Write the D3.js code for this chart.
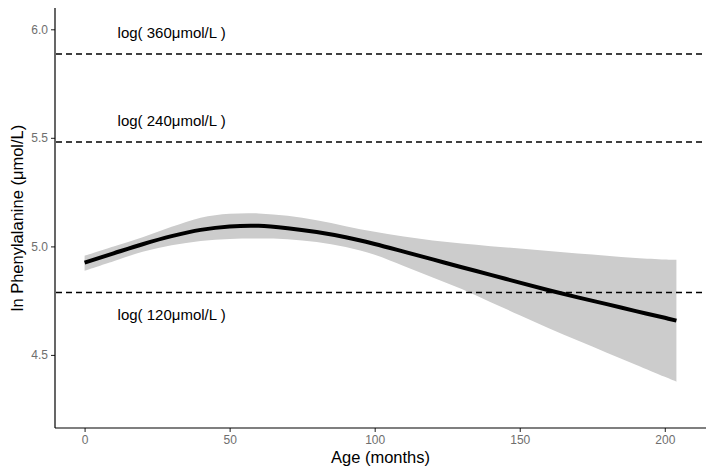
<!DOCTYPE html>
<html>
<head>
<meta charset="utf-8">
<script src="https://cdn.jsdelivr.net/npm/d3@7"></script>
<style>
  html, body { margin: 0; padding: 0; background: #fff; }
  svg { display: block; font-family: "Liberation Sans", Arial, sans-serif; }
</style>
</head>
<body>
<svg id="chart" width="712" height="472"></svg>
<script>
// ---- data ----
const ages  = [0, 10, 20, 30, 40, 50, 60, 70, 80, 90, 100, 110, 120, 130, 140, 150, 160, 170, 180, 190, 200, 204];
const fit   = [4.925, 4.968, 5.010, 5.047, 5.076, 5.092, 5.095, 5.084, 5.066, 5.042, 5.011, 4.976, 4.940, 4.904, 4.869, 4.833, 4.798, 4.765, 4.734, 4.702, 4.671, 4.658];
const upper = [4.957, 5.000, 5.042, 5.090, 5.132, 5.150, 5.152, 5.141, 5.120, 5.093, 5.067, 5.045, 5.027, 5.013, 5.001, 4.990, 4.979, 4.967, 4.957, 4.947, 4.940, 4.938];
const lower = [4.888, 4.932, 4.975, 5.005, 5.025, 5.034, 5.036, 5.033, 5.020, 4.997, 4.962, 4.910, 4.857, 4.804, 4.743, 4.683, 4.623, 4.566, 4.510, 4.455, 4.399, 4.377];

const refConcs  = [360, 240, 120];
const refLabels = ["log( 360μmol/L )", "log( 240μmol/L )", "log( 120μmol/L )"];
const refLabelOffset = [0.1, 0.1, -0.1];
const refLabelAge = 30;

const xTicks = [0, 50, 100, 150, 200];
const yTicks = [4.5, 5.0, 5.5, 6.0];
const xTitle = "Age (months)";
const yTitle = "ln Phenylalanine (μmol/L)";

// ---- layout ----
const svg = d3.select("#chart");
const pL = 55, pR = 706, pT = 8, pB = 428;

const x = d3.scaleLinear().domain([-10.2, 214.2]).range([pL, pR]);
const y = d3.scaleLinear().domain([4.1635, 6.098]).range([pB, pT]);

const rows = ages.map((a, i) => ({ age: a, fit: fit[i], lo: lower[i], hi: upper[i] }));
const smooth = d3.curveCatmullRom.alpha(0.5);

// ribbon
svg.append("path")
  .datum(rows)
  .attr("fill", "#cccccc")
  .attr("d", d3.area()
    .x(d => x(d.age))
    .y0(d => y(d.lo))
    .y1(d => y(d.hi))
    .curve(smooth));

// fitted line
svg.append("path")
  .datum(rows)
  .attr("fill", "none")
  .attr("stroke", "#000")
  .attr("stroke-width", 4)
  .attr("d", d3.line()
    .x(d => x(d.age))
    .y(d => y(d.fit))
    .curve(smooth));

// reference lines
refConcs.forEach((c, i) => {
  const v = Math.log(c);
  svg.append("line")
    .attr("x1", pL + 1).attr("x2", pR)
    .attr("y1", y(v)).attr("y2", y(v))
    .attr("stroke", "#000")
    .attr("stroke-width", 1.6)
    .attr("stroke-dasharray", "6,4");
  svg.append("text")
    .attr("x", x(refLabelAge))
    .attr("y", y(v + refLabelOffset[i]))
    .attr("dy", "0.36em")
    .attr("text-anchor", "middle")
    .attr("font-size", 15)
    .attr("fill", "#000")
    .text(refLabels[i]);
});

// axes
const xAxis = svg.append("g")
  .attr("transform", `translate(0,${pB})`)
  .call(d3.axisBottom(x).tickValues(xTicks).tickFormat(d3.format("d")).tickSize(4).tickPadding(3));
const yAxis = svg.append("g")
  .attr("transform", `translate(${pL},0)`)
  .call(d3.axisLeft(y).tickValues(yTicks).tickFormat(d3.format(".1f")).tickSize(4).tickPadding(3));

[xAxis, yAxis].forEach(g => {
  g.select(".domain").remove();
  g.selectAll(".tick line").attr("stroke", "#333").attr("stroke-width", 1.1);
  g.selectAll(".tick text").attr("fill", "#6e6e6e").attr("font-size", 12)
    .attr("font-family", "'Liberation Sans', Arial, sans-serif");
});

svg.append("line")
  .attr("x1", pL).attr("x2", pR)
  .attr("y1", pB).attr("y2", pB)
  .attr("stroke", "#000").attr("stroke-width", 1.2);
svg.append("line")
  .attr("x1", pL).attr("x2", pL)
  .attr("y1", pT).attr("y2", pB)
  .attr("stroke", "#000").attr("stroke-width", 1.2);

// titles
svg.append("text")
  .attr("x", (pL + pR) / 2)
  .attr("y", 463)
  .attr("text-anchor", "middle")
  .attr("font-size", 16.5)
  .attr("fill", "#000")
  .text(xTitle);

svg.append("text")
  .attr("transform", `translate(23,${(pT + pB) / 2}) rotate(-90)`)
  .attr("text-anchor", "middle")
  .attr("font-size", 16.5)
  .attr("fill", "#000")
  .text(yTitle);
</script>
</body>
</html>
